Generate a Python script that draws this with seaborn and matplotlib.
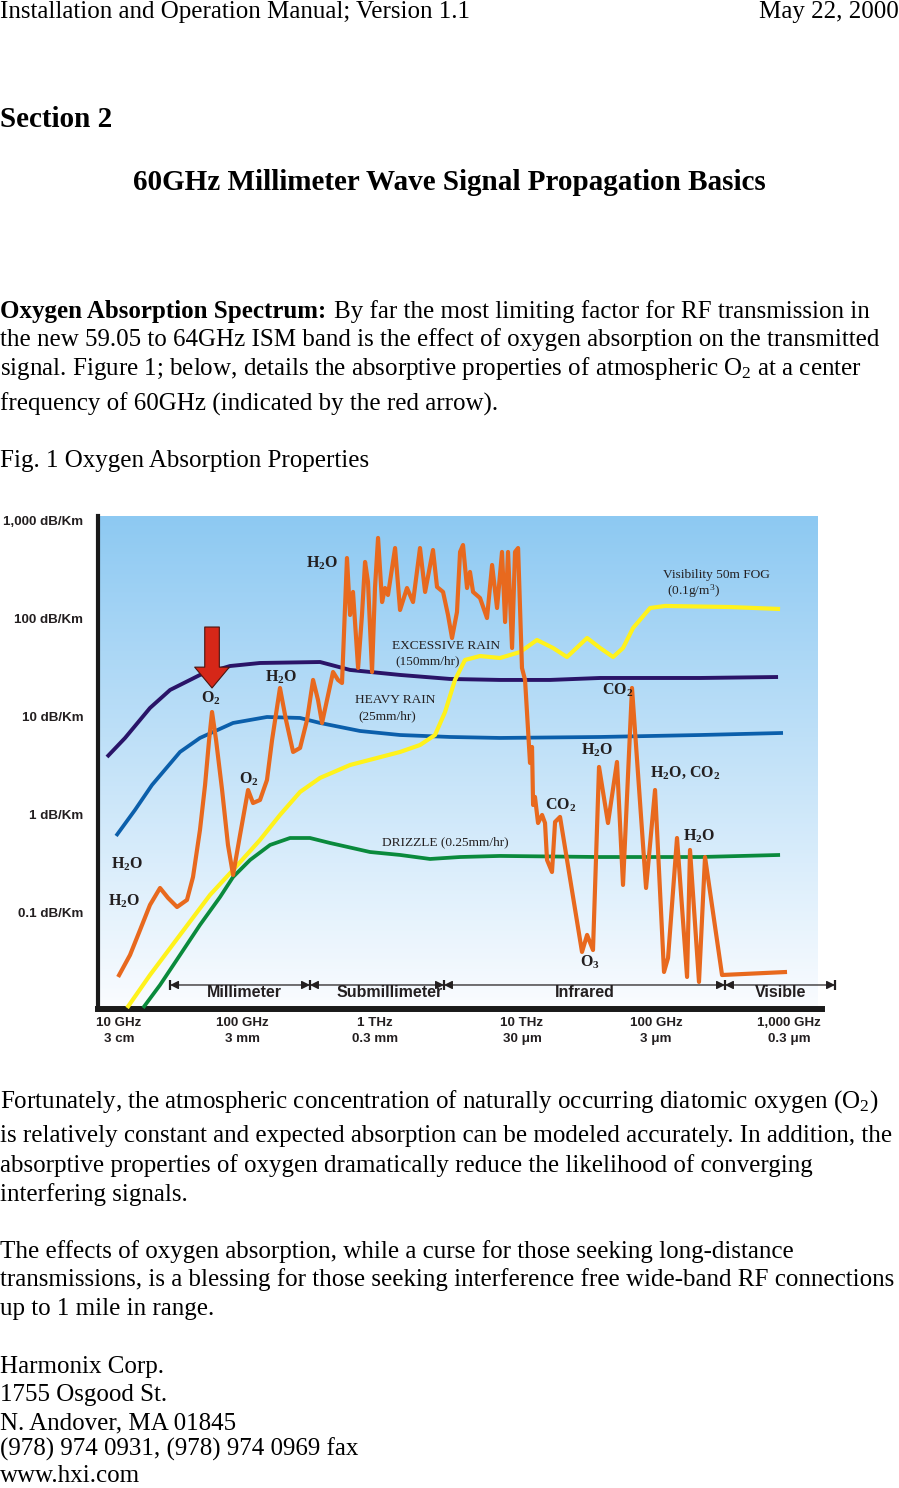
import numpy as np
import matplotlib
matplotlib.use("Agg")
import matplotlib.pyplot as plt
from matplotlib.ticker import NullLocator
import seaborn as sns

# ---------------- data (x = log10 of frequency in GHz, y = log10 of dB/km) -------------
excess_x = [0.91, 1.045, 1.231, 1.381, 1.604, 1.828, 2.052, 2.5, 2.724, 3.097, 3.47, 3.843, 4.216, 4.59, 5.336, 5.918]
excess_logdb = [0.592, 0.786, 1.092, 1.276, 1.429, 1.520, 1.551, 1.561, 1.480, 1.429, 1.388, 1.378, 1.378, 1.398, 1.398, 1.408]

heavy_x = [0.978, 1.119, 1.246, 1.455, 1.604, 1.851, 2.104, 2.351, 2.5, 2.799, 3.097, 3.47, 3.843, 4.59, 5.336, 5.955]
heavy_logdb = [-0.214, 0.051, 0.306, 0.643, 0.786, 0.939, 1.0, 0.990, 0.939, 0.857, 0.816, 0.796, 0.786, 0.796, 0.816, 0.837]

drizzle_x = [1.179, 1.306, 1.455, 1.604, 1.754, 1.851, 1.978, 2.127, 2.276, 2.425, 2.575, 2.873, 3.097, 3.321, 3.545, 3.843, 4.59, 5.336, 5.933]
drizzle_logdb = [-1.969, -1.735, -1.429, -1.122, -0.837, -0.633, -0.459, -0.306, -0.235, -0.235, -0.286, -0.378, -0.408, -0.449, -0.429, -0.418, -0.429, -0.429, -0.408]

fog_x = [1.060, 1.231, 1.455, 1.679, 1.851, 2.052, 2.201, 2.351, 2.5, 2.724,
         3.097, 3.246, 3.358, 3.433, 3.507, 3.582, 3.694, 3.843, 3.993, 4.119,
         4.239, 4.343, 4.493, 4.590, 4.687, 4.761, 4.836, 4.963, 5.075, 5.560, 5.933]
fog_logdb = [-1.969, -1.633, -1.224, -0.816, -0.561, -0.255, 0.0, 0.235, 0.378, 0.510,
             0.643, 0.714, 0.816, 1.051, 1.378, 1.582, 1.622, 1.602, 1.663, 1.786,
             1.704, 1.612, 1.806, 1.704, 1.612, 1.704, 1.908, 2.112, 2.133, 2.122, 2.102]

gas_x = [0.993, 1.082, 1.157, 1.231, 1.306, 1.366, 1.433, 1.507, 1.552, 1.604,
         1.642, 1.672, 1.694, 1.724, 1.769, 1.813, 1.851, 1.903, 1.963, 2.0,
         2.052, 2.104, 2.142, 2.201, 2.246, 2.299, 2.351, 2.403, 2.448, 2.485,
         2.515, 2.560, 2.597, 2.634, 2.664, 2.701, 2.724, 2.746, 2.784, 2.813,
         2.836, 2.858, 2.888, 2.910, 2.933, 2.963, 2.985, 3.007, 3.060, 3.097,
         3.149, 3.194, 3.246, 3.284, 3.343, 3.373, 3.418, 3.455, 3.485, 3.522,
         3.545, 3.567, 3.597, 3.619, 3.642, 3.694, 3.746, 3.784, 3.821, 3.858,
         3.881, 3.903, 3.933, 3.955, 3.978, 4.007, 4.030, 4.067, 4.082, 4.090,
         4.104, 4.127, 4.157, 4.179, 4.194, 4.231, 4.254, 4.291, 4.455, 4.493,
         4.537, 4.582, 4.649, 4.716, 4.761, 4.828, 4.933, 5.0, 5.067, 5.097,
         5.164, 5.239, 5.261, 5.328, 5.373, 5.5, 5.985]
gas_logdb = [-1.653, -1.429, -1.173, -0.918, -0.745, -0.847, -0.939, -0.867, -0.633, -0.153,
             0.306, 0.765, 1.051, 0.765, 0.255, -0.306, -0.612, -0.204, 0.255, 0.122,
             0.153, 0.357, 0.765, 1.296, 0.969, 0.643, 0.684, 0.969, 1.378, 1.173,
             0.939, 1.224, 1.459, 1.378, 1.347, 2.622, 2.041, 2.276, 1.5, 2.041,
             2.582, 2.378, 1.459, 2.316, 2.827, 2.173, 2.316, 2.245, 2.724, 2.092,
             2.316, 2.173, 2.724, 2.276, 2.704, 2.327, 2.276, 2.041, 1.806, 2.071,
             2.684, 2.755, 2.316, 2.480, 2.276, 2.214, 2.010, 2.551, 2.112, 2.684,
             1.969, 2.684, 1.704, 2.684, 2.724, 1.5, 1.378, 0.531, 0.694, 0.102,
             0.184, -0.082, 0.0, -0.082, -0.459, -0.582, -0.071, -0.020, -1.398, -1.224,
             -1.378, 0.490, -0.082, 0.541, -0.714, 1.296, -0.745, 0.255, -1.602, -1.459,
             -0.235, -1.653, -0.357, -1.704, -0.429, -1.633, -1.602]

x_tick_pos = [1.0, 1.918, 2.91, 4.007, 5.007, 6.0]
x_tick_labels = ["10 GHz\n3 cm", "100 GHz\n3 mm", "1 THz\n0.3 mm", "10 THz\n30 \u03bcm",
                 "100 GHz\n3 \u03bcm", "1,000 GHz\n0.3 \u03bcm"]
y_tick_vals = [1000, 100, 10, 1, 0.1]
y_tick_labels = ["1,000 dB/Km", "100 dB/Km", "10 dB/Km", "1 dB/Km", "0.1 dB/Km"]

band_edges = [1.381, 2.425, 3.425, 5.522, 6.343]
band_names = ["Millimeter", "Submillimeter", "Infrared", "Visible"]
band_centers = [1.933, 3.022, 4.478, 5.94]

o2_arrow_x = 1.694
o2_arrow_top_logdb = 1.918
o2_arrow_tip_logdb = 1.296

# ---------------- style ----------------
sns.set_style("white")
plt.rcParams["font.family"] = ["Liberation Serif", "DejaVu Serif"]
plt.rcParams["mathtext.fontset"] = "custom"
plt.rcParams["mathtext.rm"] = "Liberation Serif"
plt.rcParams["mathtext.it"] = "Liberation Serif:italic"
plt.rcParams["mathtext.bf"] = "Liberation Serif:bold"

W, H = 899, 1488
fig = plt.figure(figsize=(W / 100, H / 100), dpi=100)
fig.patch.set_facecolor("white")


def fx(px):
    return px / W


def fy(py):
    return 1 - py / H


INK = "#231f20"
SANS = ["Liberation Sans", "DejaVu Sans"]
SERIF = ["Liberation Serif", "DejaVu Serif"]

# ---------------- background gradient ----------------
bg = fig.add_axes([fx(98), fy(1008), (818 - 98) / W, (1008 - 516) / H], zorder=0)
top = np.array([141, 201, 242]) / 255
bot = np.array([250, 252, 255]) / 255
t = np.linspace(0, 1, 256)[:, None]
grad = (top * (1 - t) + bot * t)[:, None, :]
bg.imshow(grad, aspect="auto", extent=[0, 1, 0, 1])
bg.axis("off")

# ---------------- main axes ----------------
ax = fig.add_axes([fx(98), fy(1009), (822 - 98) / W, (1009 - 516) / H], zorder=1)
ax.set_facecolor("none")
ax.set_yscale("log")
ax.set_xlim(0.843, 6.246)
ax.set_ylim(10 ** -1.98, 10 ** 3.051)


def curve(xs, logs, color, lw, z):
    sns.lineplot(x=np.array(xs), y=10 ** np.array(logs), ax=ax, color=color,
                 linewidth=lw, estimator=None, sort=False, zorder=z,
                 solid_joinstyle="round", solid_capstyle="butt")


curve(excess_x, excess_logdb, "#2a1468", 2.8, 3)
curve(heavy_x, heavy_logdb, "#0b5fab", 2.7, 3)
curve(drizzle_x, drizzle_logdb, "#0a8a3c", 2.7, 3)
curve(fog_x, fog_logdb, "#fff21c", 3.0, 4)
curve(gas_x, gas_logdb, "#e8691e", 3.0, 5)

# spines
sns.despine(ax=ax)
ax.spines["left"].set_linewidth(3.0)
ax.spines["bottom"].set_linewidth(4.3)
ax.spines["left"].set_color("#1a1a1a")
ax.spines["bottom"].set_color("#1a1a1a")

ax.set_xticks(x_tick_pos)
ax.set_xticklabels(x_tick_labels, fontfamily=SANS, fontweight="bold", fontsize=9.6,
                   color=INK, linespacing=1.45)
ax.set_yticks(y_tick_vals)
ax.set_yticklabels(y_tick_labels, fontfamily=SANS, fontweight="bold", fontsize=9.6, color=INK)
ax.yaxis.set_minor_locator(NullLocator())
ax.tick_params(axis="x", length=0, pad=6)
ax.tick_params(axis="y", length=0, pad=10.5)
ax.grid(False)

# red arrow at 60 GHz
ax.annotate("", xy=(o2_arrow_x, 10 ** o2_arrow_tip_logdb), xytext=(o2_arrow_x, 10 ** o2_arrow_top_logdb),
            arrowprops=dict(arrowstyle="simple,head_length=15,head_width=25,tail_width=10.5",
                            mutation_scale=1, fc="#d62718", ec="#4a1510", lw=0.8,
                            shrinkA=0, shrinkB=0), zorder=6)

# band indicator
yb = 10 ** -1.735
for a, b in zip(band_edges[:-1], band_edges[1:]):
    ax.annotate("", xy=(a, yb), xytext=(b, yb), annotation_clip=False,
                arrowprops=dict(arrowstyle="<|-|>,head_length=0.5,head_width=0.25",
                                mutation_scale=10, color=INK, lw=0.9, shrinkA=0, shrinkB=0))
ax.plot(band_edges, [yb] * len(band_edges), ls="none", marker="|", markersize=7,
        mew=1.6, color=INK, clip_on=False, zorder=6)
for name, cx in zip(band_names, band_centers):
    ax.text(cx, 10 ** -1.816, name, ha="center", va="center", fontfamily=SANS,
            fontweight="bold", fontsize=11.5, color=INK, zorder=7)

# gas labels
H2O = r"H$\mathregular{_2}$O"
CO2 = r"CO$\mathregular{_2}$"
gas_labels = [
    (2.515, 2.571, H2O), (1.687, 1.194, r"O$\mathregular{_2}$"), (2.209, 1.408, H2O),
    (1.970, 0.367, r"O$\mathregular{_2}$"), (1.060, -0.5, H2O), (1.037, -0.878, H2O),
    (4.724, 1.276, CO2), (4.567, 0.663, H2O), (5.224, 0.429, H2O + ", " + CO2),
    (4.299, 0.102, CO2), (5.328, -0.214, H2O), (4.515, -1.5, r"O$\mathregular{_3}$"),
]
for gx, gy, s in gas_labels:
    ax.text(gx, 10 ** gy, s, ha="center", va="center", fontfamily=SERIF,
            fontweight="bold", fontsize=11.5, color=INK, zorder=7)

cond_labels = [
    (3.037, 1.724, "EXCESSIVE RAIN"), (3.060, 1.571, "(150mm/hr)"),
    (2.761, 1.173, "HEAVY RAIN"), (2.784, 1.010, "(25mm/hr)"),
    (2.963, -0.276, "DRIZZLE (0.25mm/hr)"),
    (5.060, 2.449, "Visibility 50m FOG"), (5.090, 2.286, r"(0.1g/m$\mathregular{^3}$)"),
]
for lx, ly, s in cond_labels:
    ax.text(lx, 10 ** ly, s, ha="left", va="center", fontfamily=SERIF,
            fontsize=9.6, color=INK, zorder=7)

# ---------------- page text ----------------
BODY = 18


def ptext(xpx, ypx, s, **kw):
    kw.setdefault("fontsize", BODY)
    kw.setdefault("fontfamily", SERIF)
    kw.setdefault("color", "black")
    return fig.text(fx(xpx), fy(ypx), s, va="baseline", **kw)


ptext(0, 18, "Installation and Operation Manual; Version 1.1")
ptext(899, 18, "May 22, 2000", ha="right")
ptext(0, 127, "Section 2", fontweight="bold", fontsize=21)
ptext(449, 190, "60GHz Millimeter Wave Signal Propagation Basics", ha="center",
      fontweight="bold", fontsize=21)

renderer = fig.canvas.get_renderer()
b = ptext(0, 318, "Oxygen Absorption Spectrum:", fontweight="bold")
bw = b.get_window_extent(renderer=renderer).width
ptext(bw + 8, 318, "By far the most limiting factor for RF transmission in")
ptext(0, 346, "the new 59.05 to 64GHz ISM band is the effect of oxygen absorption on the transmitted")
ptext(0, 375, r"signal. Figure 1; below, details the absorptive properties of atmospheric O$\mathregular{_2}$ at a center")
ptext(0, 411, "frequency of 60GHz (indicated by the red arrow).")
ptext(0, 467, "Fig. 1 Oxygen Absorption Properties")

lower = [
    (1108, r"Fortunately, the atmospheric concentration of naturally occurring diatomic oxygen (O$\mathregular{_2}$)"),
    (1142, "is relatively constant and expected absorption can be modeled accurately. In addition, the"),
    (1172, "absorptive properties of oxygen dramatically reduce the likelihood of converging"),
    (1201, "interfering signals."),
    (1258, "The effects of oxygen absorption, while a curse for those seeking long-distance"),
    (1286, "transmissions, is a blessing for those seeking interference free wide-band RF connections"),
    (1315, "up to 1 mile in range."),
    (1373, "Harmonix Corp."),
    (1401, "1755 Osgood St."),
    (1429, "N. Andover, MA 01845"),
    (1456, "(978) 974 0931, (978) 974 0969 fax"),
    (1482, "www.hxi.com"),
]
for yy, s in lower:
    ptext(0, yy, s)

fig.savefig("out.png", dpi=100, facecolor="white")
